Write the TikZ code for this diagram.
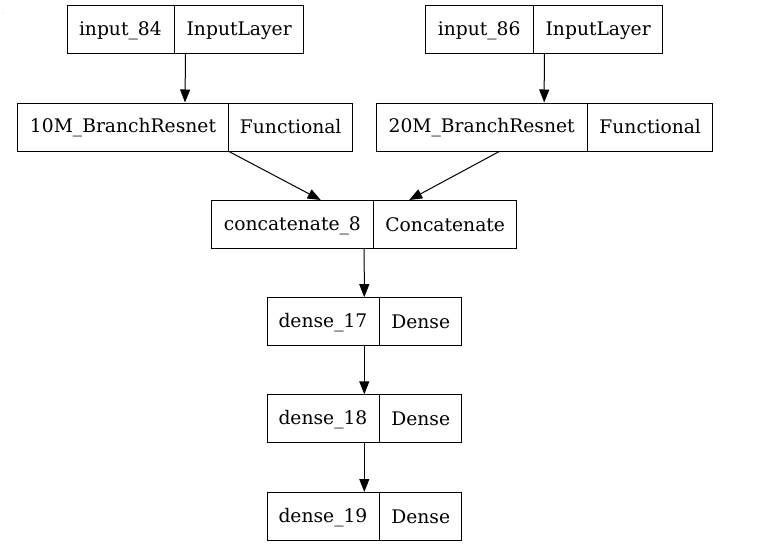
\documentclass[tikz,border=0pt]{standalone}
\usepackage{fontspec}
\setmainfont{DejaVu Serif}
\usetikzlibrary{arrows.meta,shapes.multipart,calc}
\tikzset{
	layer/.style={
			draw, line width=1pt,
			rectangle split, rectangle split horizontal, rectangle split parts=2,
			inner xsep=0pt, inner ysep=0pt, minimum height=48pt,
			font=\fontsize{18.7}{22}\selectfont
		},
	flow/.style={-{Triangle[length=13pt,width=10pt]}, line width=1pt}
}
\newcommand{\cell}[2]{\makebox[#1pt]{\rule[-2.4pt]{0pt}{18.4pt}#2}}

\begin{document}
\begin{tikzpicture}[x=1pt, y=-1pt]
		\useasboundingbox (0,0) rectangle (761,557);

		% stray mark
		\node[text=gray!60, font=\tiny] (dots) at (3,13) {:};

		% Inputs
		\node[layer] (in84) at (185.5,29.5) {\cell{106.3}{input\_84}\nodepart{two}\cell{129.3}{InputLayer}};
		\node[layer] (in86) at (544.3,29.5) {\cell{106.7}{input\_86}\nodepart{two}\cell{129.3}{InputLayer}};

		% Branches
		\node[layer] (br10) at (185,127) {\cell{210.4}{10M\_BranchResnet}\nodepart{two}\cell{123}{Functional}};
		\node[layer] (br20) at (544.2,127) {\cell{211}{20M\_BranchResnet}\nodepart{two}\cell{124}{Functional}};

		% Merge and head
		\node[layer] (cat) at (364.2,224.5) {\cell{161}{concatenate\_8}\nodepart{two}\cell{142.7}{Concatenate}};
		\node[layer] (d17) at (364.3,321.7) {\cell{111.8}{dense\_17}\nodepart{two}\cell{81.7}{Dense}};
		\node[layer] (d18) at (364.3,418.8) {\cell{111.8}{dense\_18}\nodepart{two}\cell{81.7}{Dense}};
		\node[layer] (d19) at (364.3,516.5) {\cell{111.8}{dense\_19}\nodepart{two}\cell{81.7}{Dense}};

		% Edges
		\draw[flow] (in84.south) -- (br10.north);
		\draw[flow] (in86.south) -- (br20.north);
		\draw[flow] ($(br10.south)+(44,0)$) -- ($(cat.north)+(-43.5,0)$);
		\draw[flow] ($(br20.south)+(-45,0)$) -- ($(cat.north)+(45,0)$);
		\draw[flow] (cat.south) -- (d17.north);
		\draw[flow] (d17.south) -- (d18.north);
		\draw[flow] (d18.south) -- (d19.north);
	\end{tikzpicture}
\end{document}
